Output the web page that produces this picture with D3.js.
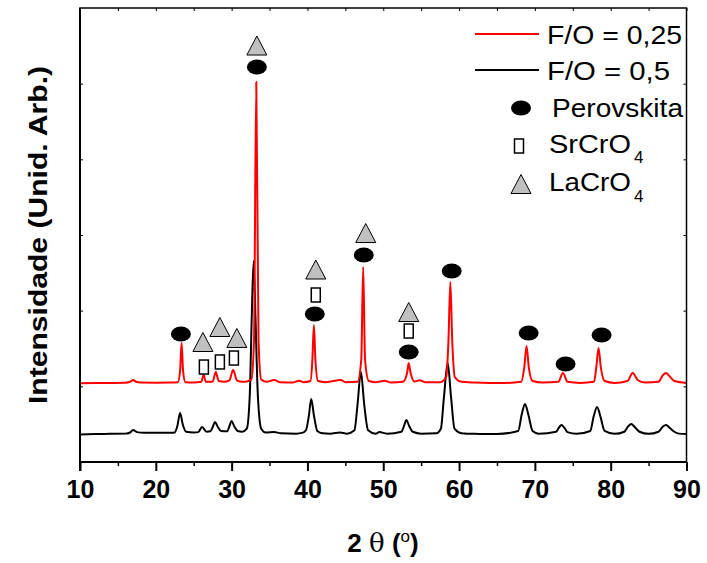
<!DOCTYPE html>
<html>
<head>
<meta charset="utf-8">
<script src="https://cdn.jsdelivr.net/npm/d3@7"></script>
<style>
  body { margin: 0; background: #fff; }
  text { font-family: "Liberation Sans", Arial, sans-serif; }
</style>
</head>
<body>
<div id="chart"></div>
<script>
// XRD patterns [2theta, intensity (arb., offset included)]
const redSeries = [
  [10, 1.040], [12, 1.043], [14, 1.045], [16, 1.048], [16.6, 1.060], [17.0, 1.085], [17.4, 1.060],
  [18, 1.050], [20, 1.048], [22, 1.050], [22.9, 1.055], [23.2, 1.20], [23.4, 1.573], [23.6, 1.20],
  [23.9, 1.055], [25, 1.052], [26.0, 1.06], [26.3, 1.150], [26.6, 1.06], [27.5, 1.06], [27.9, 1.189],
  [28.3, 1.07], [29.0, 1.06], [29.7, 1.08], [30.2, 1.216], [30.7, 1.08], [31.4, 1.06], [32.0, 1.065],
  [32.6, 1.09], [32.95, 1.6], [33.25, 5.022], [33.55, 1.6], [33.9, 1.09], [34.6, 1.06], [35.6, 1.085],
  [36.4, 1.055], [38.0, 1.05], [38.9, 1.075], [39.5, 1.055], [40.4, 1.07], [40.65, 1.35], [40.85, 1.81],
  [41.05, 1.35], [41.4, 1.07], [42.5, 1.055], [44.4, 1.085], [45.0, 1.055], [46.6, 1.06], [47.1, 1.35],
  [47.35, 2.577], [47.6, 1.35], [48.1, 1.07], [49.0, 1.055], [50.2, 1.075], [51.0, 1.05], [52.6, 1.06],
  [53.15, 1.18], [53.35, 1.308], [53.6, 1.18], [54.1, 1.065], [54.8, 1.08], [55.5, 1.055], [57.5, 1.055],
  [58.3, 1.12], [58.6, 1.6], [58.85, 2.379], [59.1, 1.6], [59.45, 1.12], [60.3, 1.06], [62, 1.05],
  [64, 1.045], [66, 1.045], [68.2, 1.06], [68.6, 1.25], [68.9, 1.533], [69.2, 1.25], [69.7, 1.07],
  [71, 1.05], [73.1, 1.06], [73.7, 1.176], [74.3, 1.06], [76, 1.045], [77.8, 1.06], [78.1, 1.25],
  [78.4, 1.507], [78.7, 1.25], [79.2, 1.07], [80.5, 1.045], [82.2, 1.07], [82.9, 1.176], [83.6, 1.08],
  [84.5, 1.05], [86.3, 1.06], [86.9, 1.15], [87.3, 1.176], [87.7, 1.14], [88.4, 1.07], [90, 1.045]
];

const blackSeries = [
  [10, 0.365], [12, 0.37], [14, 0.372], [16, 0.375], [16.6, 0.39], [17.0, 0.423], [17.5, 0.395],
  [18.5, 0.385], [20, 0.385], [22, 0.385], [22.5, 0.39], [22.85, 0.48], [23.2, 0.648], [23.55, 0.50],
  [24.0, 0.40], [25.0, 0.39], [25.6, 0.395], [26.1, 0.463], [26.7, 0.40], [27.2, 0.405], [27.5, 0.46],
  [27.8, 0.529], [28.15, 0.47], [28.6, 0.41], [29.4, 0.405], [29.7, 0.47], [30.0, 0.542], [30.35, 0.47],
  [30.8, 0.41], [31.4, 0.40], [32.0, 0.44], [32.4, 0.9], [32.65, 1.9], [32.9, 2.656], [33.15, 1.9],
  [33.45, 0.9], [33.9, 0.44], [34.5, 0.39], [35.6, 0.396], [36.5, 0.38], [38.5, 0.375], [39.3, 0.385],
  [39.8, 0.42], [40.2, 0.62], [40.5, 0.833], [40.85, 0.62], [41.3, 0.41], [42.0, 0.38], [43, 0.375],
  [44.3, 0.39], [45.2, 0.375], [46.2, 0.42], [46.6, 0.75], [47.05, 1.189], [47.5, 0.75], [48.0, 0.42],
  [49.0, 0.375], [49.5, 0.395], [50.5, 0.375], [52.4, 0.40], [52.75, 0.48], [53.05, 0.555], [53.4, 0.48],
  [53.9, 0.40], [55.0, 0.375], [57.0, 0.38], [57.6, 0.44], [58.0, 0.85], [58.5, 1.308], [58.95, 0.85],
  [59.4, 0.44], [60.3, 0.38], [62, 0.372], [65, 0.37], [67.8, 0.41], [68.25, 0.62], [68.7, 0.767],
  [69.15, 0.62], [69.7, 0.41], [70.5, 0.375], [72.8, 0.40], [73.15, 0.45], [73.5, 0.489], [73.9, 0.45],
  [74.3, 0.395], [75.5, 0.372], [77.3, 0.41], [77.75, 0.60], [78.2, 0.727], [78.65, 0.60], [79.2, 0.41],
  [80.5, 0.372], [81.8, 0.40], [82.3, 0.47], [82.7, 0.502], [83.2, 0.46], [83.8, 0.40], [85, 0.372],
  [86.3, 0.40], [86.9, 0.47], [87.3, 0.489], [87.8, 0.45], [88.4, 0.40], [89.0, 0.375], [90, 0.370]
];

// phase markers [2theta, intensity]
const perovskita = [
  [23.31, 1.692], [33.33, 5.220], [40.97, 1.956], [47.43, 2.736], [53.36, 1.454],
  [59.03, 2.524], [69.18, 1.705], [74.05, 1.295], [78.80, 1.678]
];
const srcro4 = [[26.34, 1.255], [28.45, 1.322], [30.30, 1.374], [41.10, 2.207], [53.36, 1.731]];
const lacro4 = [
  [26.21, 1.586], [28.45, 1.784], [30.69, 1.639], [33.33, 5.504], [41.10, 2.544],
  [47.69, 3.026], [53.36, 1.982]
];

const xTicks = [10, 20, 30, 40, 50, 60, 70, 80, 90];
const xMinor = [15, 25, 35, 45, 55, 65, 75, 85];
const yTicks = [1, 2, 3, 4, 5];

const width = 707, height = 563;
const margin = { top: 8, right: 20, bottom: 101, left: 80 };

const svg = d3.select("#chart").append("svg")
  .attr("width", width).attr("height", height);

const x = d3.scaleLinear().domain([10, 90]).range([margin.left, width - margin.right - 0.5]);
const y = d3.scaleLinear().domain([0, 6]).range([height - margin.bottom, margin.top]);

const line = d3.line()
  .x(d => x(d[0]))
  .y(d => y(d[1]))
  .curve(d3.curveMonotoneX);

const plot = svg.append("g");

plot.append("path").datum(blackSeries)
  .attr("d", line).attr("fill", "none").attr("stroke", "#000").attr("stroke-width", 2);
plot.append("path").datum(redSeries)
  .attr("d", line).attr("fill", "none").attr("stroke", "#ff0000").attr("stroke-width", 2);

// markers
function ellipse(g, cx, cy) {
  g.append("ellipse").attr("cx", cx).attr("cy", cy).attr("rx", 10).attr("ry", 7.5).attr("fill", "#000");
}
function box(g, cx, cy) {
  g.append("rect").attr("x", cx - 4.5).attr("y", cy - 7).attr("width", 9).attr("height", 14)
    .attr("fill", "#fff").attr("stroke", "#000").attr("stroke-width", 1.5);
}
function tri(g, cx, cy) {
  g.append("path")
    .attr("d", `M${cx},${cy - 9.5}L${cx + 10},${cy + 9.5}L${cx - 10},${cy + 9.5}Z`)
    .attr("fill", "#c0c0c0").attr("stroke", "#000").attr("stroke-width", 1);
}

const mk = svg.append("g");
perovskita.forEach(d => ellipse(mk, x(d[0]), y(d[1])));
srcro4.forEach(d => box(mk, x(d[0]), y(d[1])));
lacro4.forEach(d => tri(mk, x(d[0]), y(d[1])));

// frame and axes
const x0 = x(10), x1 = x(90), y0 = y(0), y1 = y(6);
svg.append("rect").attr("x", x0).attr("y", y1).attr("width", x1 - x0).attr("height", y0 - y1)
  .attr("fill", "none").attr("stroke", "#000").attr("stroke-width", 1.5);
svg.append("line").attr("x1", x0).attr("x2", x0).attr("y1", y1).attr("y2", y0 + 9)
  .attr("stroke", "#000").attr("stroke-width", 2);
svg.append("line").attr("x1", x0).attr("x2", x1).attr("y1", y0).attr("y2", y0)
  .attr("stroke", "#000").attr("stroke-width", 2);

const xAxis = svg.append("g").attr("transform", `translate(0,${y0})`)
  .call(d3.axisBottom(x).tickValues(xTicks).tickSize(9).tickFormat(d3.format("d")));
xAxis.select(".domain").remove();
xAxis.selectAll(".tick line").attr("stroke-width", 2);
xAxis.selectAll(".tick text")
  .attr("font-size", 25).attr("font-weight", "bold").attr("fill", "#000")
  .attr("font-family", "'Liberation Sans', Arial, sans-serif")
  .attr("dy", 0).attr("y", 36);

const xMin = svg.append("g").attr("transform", `translate(0,${y0})`)
  .call(d3.axisBottom(x).tickValues(xMinor).tickSize(4).tickFormat(""));
xMin.select(".domain").remove();
xMin.selectAll(".tick line").attr("stroke-width", 1.5);

const xTop = svg.append("g").attr("transform", `translate(0,${y1})`)
  .call(d3.axisBottom(x).tickValues(xTicks.concat(xMinor)).tickSize(3).tickFormat(""));
xTop.select(".domain").remove();

const yL = svg.append("g").attr("transform", `translate(${x0},0)`)
  .call(d3.axisRight(y).tickValues(yTicks).tickSize(3).tickFormat(""));
yL.select(".domain").remove();
const yR = svg.append("g").attr("transform", `translate(${x1},0)`)
  .call(d3.axisLeft(y).tickValues(yTicks).tickSize(3).tickFormat(""));
yR.select(".domain").remove();

// axis titles
const xt = svg.append("text").attr("x", 383).attr("y", 552).attr("text-anchor", "middle")
  .attr("font-size", 26).attr("font-weight", "bold");
xt.append("tspan").text("2 ");
xt.append("tspan").attr("font-weight", "normal").attr("font-family", "'DejaVu Serif', serif").text("θ");
xt.append("tspan").text(" (");
xt.append("tspan").attr("font-size", 17).attr("dy", -10).attr("font-weight", "normal").text("o");
xt.append("tspan").attr("dy", 10).text(")");

svg.append("text")
  .attr("transform", `translate(47,${(y0 + y1) / 2}) rotate(-90)`)
  .attr("text-anchor", "middle").attr("font-size", 26).attr("font-weight", "bold")
  .attr("textLength", 338).attr("lengthAdjust", "spacingAndGlyphs")
  .text("Intensidade (Unid. Arb.)");

// legend
const leg = svg.append("g");
const legFont = 25;
function legText(tx, ty, s, len) {
  return leg.append("text").attr("x", tx).attr("y", ty).attr("font-size", legFont)
    .attr("textLength", len).attr("lengthAdjust", "spacingAndGlyphs").text(s);
}
leg.append("line").attr("x1", 475).attr("x2", 539).attr("y1", 34).attr("y2", 34)
  .attr("stroke", "#ff0000").attr("stroke-width", 2);
legText(547, 44, "F/O = 0,25", 135);
leg.append("line").attr("x1", 475).attr("x2", 539).attr("y1", 70).attr("y2", 70)
  .attr("stroke", "#000").attr("stroke-width", 2);
legText(547, 80, "F/O = 0,5", 123);
ellipse(leg, 521, 108);
legText(552, 117, "Perovskita", 131);
box(leg, 519, 146);
legText(549, 153, "SrCrO", 82);
leg.append("text").attr("x", 634).attr("y", 163).attr("font-size", 17).text("4");
tri(leg, 521, 184);
legText(549, 191, "LaCrO", 82);
leg.append("text").attr("x", 634).attr("y", 202).attr("font-size", 17).text("4");
</script>
</body>
</html>
